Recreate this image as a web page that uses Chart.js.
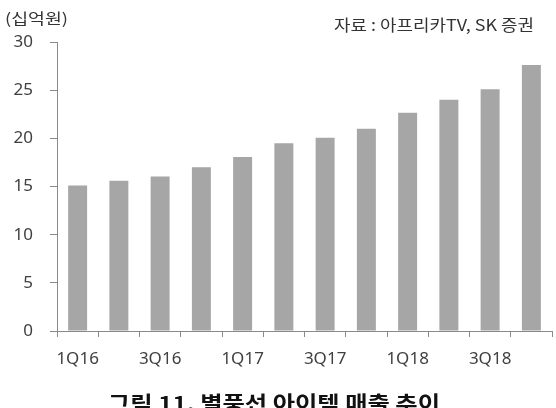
<!DOCTYPE html>
<html>
<head>
<meta charset="utf-8">
<script src="https://cdn.jsdelivr.net/npm/chart.js@4.4.1/dist/chart.umd.min.js"></script>
<style>
  html, body { margin: 0; padding: 0; background: #fff; }
  #wrap { position: relative; width: 556px; height: 408px; overflow: hidden; }
</style>
</head>
<body>
<div id="wrap"><canvas id="sales" width="556" height="408"></canvas></div>
<script>
// quarterly balloon/item revenue, KRW bn
var categories = ["1Q16", "2Q16", "3Q16", "4Q16", "1Q17", "2Q17", "3Q17", "4Q17", "1Q18", "2Q18", "3Q18", "4Q18"];
var revenue = [15.1, 15.6, 16.05, 17.0, 18.05, 19.5, 20.05, 21.0, 22.65, 24.0, 25.1, 27.6];
var yTicks = [0, 5, 10, 15, 20, 25, 30];
var unitLabel = "(십억원)";
var sourceLabel = "자료 : 아프리카TV, SK 증권";
var figureTitle = "그림 11. 별풍선 아이템 매출 추이";

var FONT = '"Noto Sans", "Noto Sans CJK KR", sans-serif';
var KFONT = '"Noto Sans CJK KR", sans-serif';

// draws text squeezed/stretched to a given width
function fitText(ctx, txt, x, y, w) {
  var m = ctx.measureText(txt).width;
  ctx.save();
  ctx.translate(x, y);
  ctx.scale(w / m, 1);
  ctx.fillText(txt, 0, 0);
  ctx.restore();
}

var captions = {
  id: "captions",
  afterDraw: function (chart) {
    var ctx = chart.ctx;
    ctx.save();
    ctx.fillStyle = "#333";
    ctx.textAlign = "left";
    ctx.textBaseline = "alphabetic";
    ctx.font = "15px " + KFONT;
    fitText(ctx, unitLabel, 5, 24, 63);
    ctx.font = "16px " + KFONT;
    fitText(ctx, sourceLabel, 334, 31, 200);
    ctx.fillStyle = "#111";
    ctx.font = "bold 20px " + KFONT;
    fitText(ctx, figureTitle, 108, 411, 332);
    ctx.restore();
  }
};

document.addEventListener("DOMContentLoaded", function () {
  var c = document.getElementById("sales").getContext("2d");
  new Chart(c, {
    type: "bar",
    data: {
      labels: categories,
      datasets: [
        {
          label: "매출",
          data: revenue,
          backgroundColor: "#a6a6a6",
          borderWidth: 0,
          categoryPercentage: 1,
          barPercentage: 0.46
        }
      ]
    },
    options: {
      responsive: !1,
      animation: !1,
      devicePixelRatio: 1,
      layout: { padding: { top: 42, right: 4, left: 0, bottom: 0 } },
      plugins: { legend: { display: !1 }, tooltip: { enabled: !1 }, title: { display: !1 } },
      scales: {
        x: {
          afterFit: function (s) { s.height = 77; },
          border: { display: !0, color: "#8a8a8a", width: 1 },
          grid: { display: !0, drawOnChartArea: !1, drawTicks: !0, tickLength: 6, color: "#8a8a8a", offset: !0 },
          ticks: {
            autoSkip: !1,
            maxRotation: 0,
            padding: 12,
            color: "#404040",
            font: { family: FONT, size: 17 },
            callback: function (v, i) { return i % 2 === 0 ? categories[i] : ""; }
          }
        },
        y: {
          min: 0,
          max: 30,
          afterFit: function (s) { s.width = 57; },
          afterBuildTicks: function (s) { s.ticks = yTicks.map(function (v) { return { value: v }; }); },
          border: { display: !0, color: "#8a8a8a", width: 1 },
          grid: { display: !0, drawOnChartArea: !1, drawTicks: !0, tickLength: 7, color: "#8a8a8a" },
          ticks: {
            padding: 17,
            color: "#404040",
            font: { family: FONT, size: 17 }
          }
        }
      }
    },
    plugins: [captions]
  });
});
</script>
</body>
</html>
